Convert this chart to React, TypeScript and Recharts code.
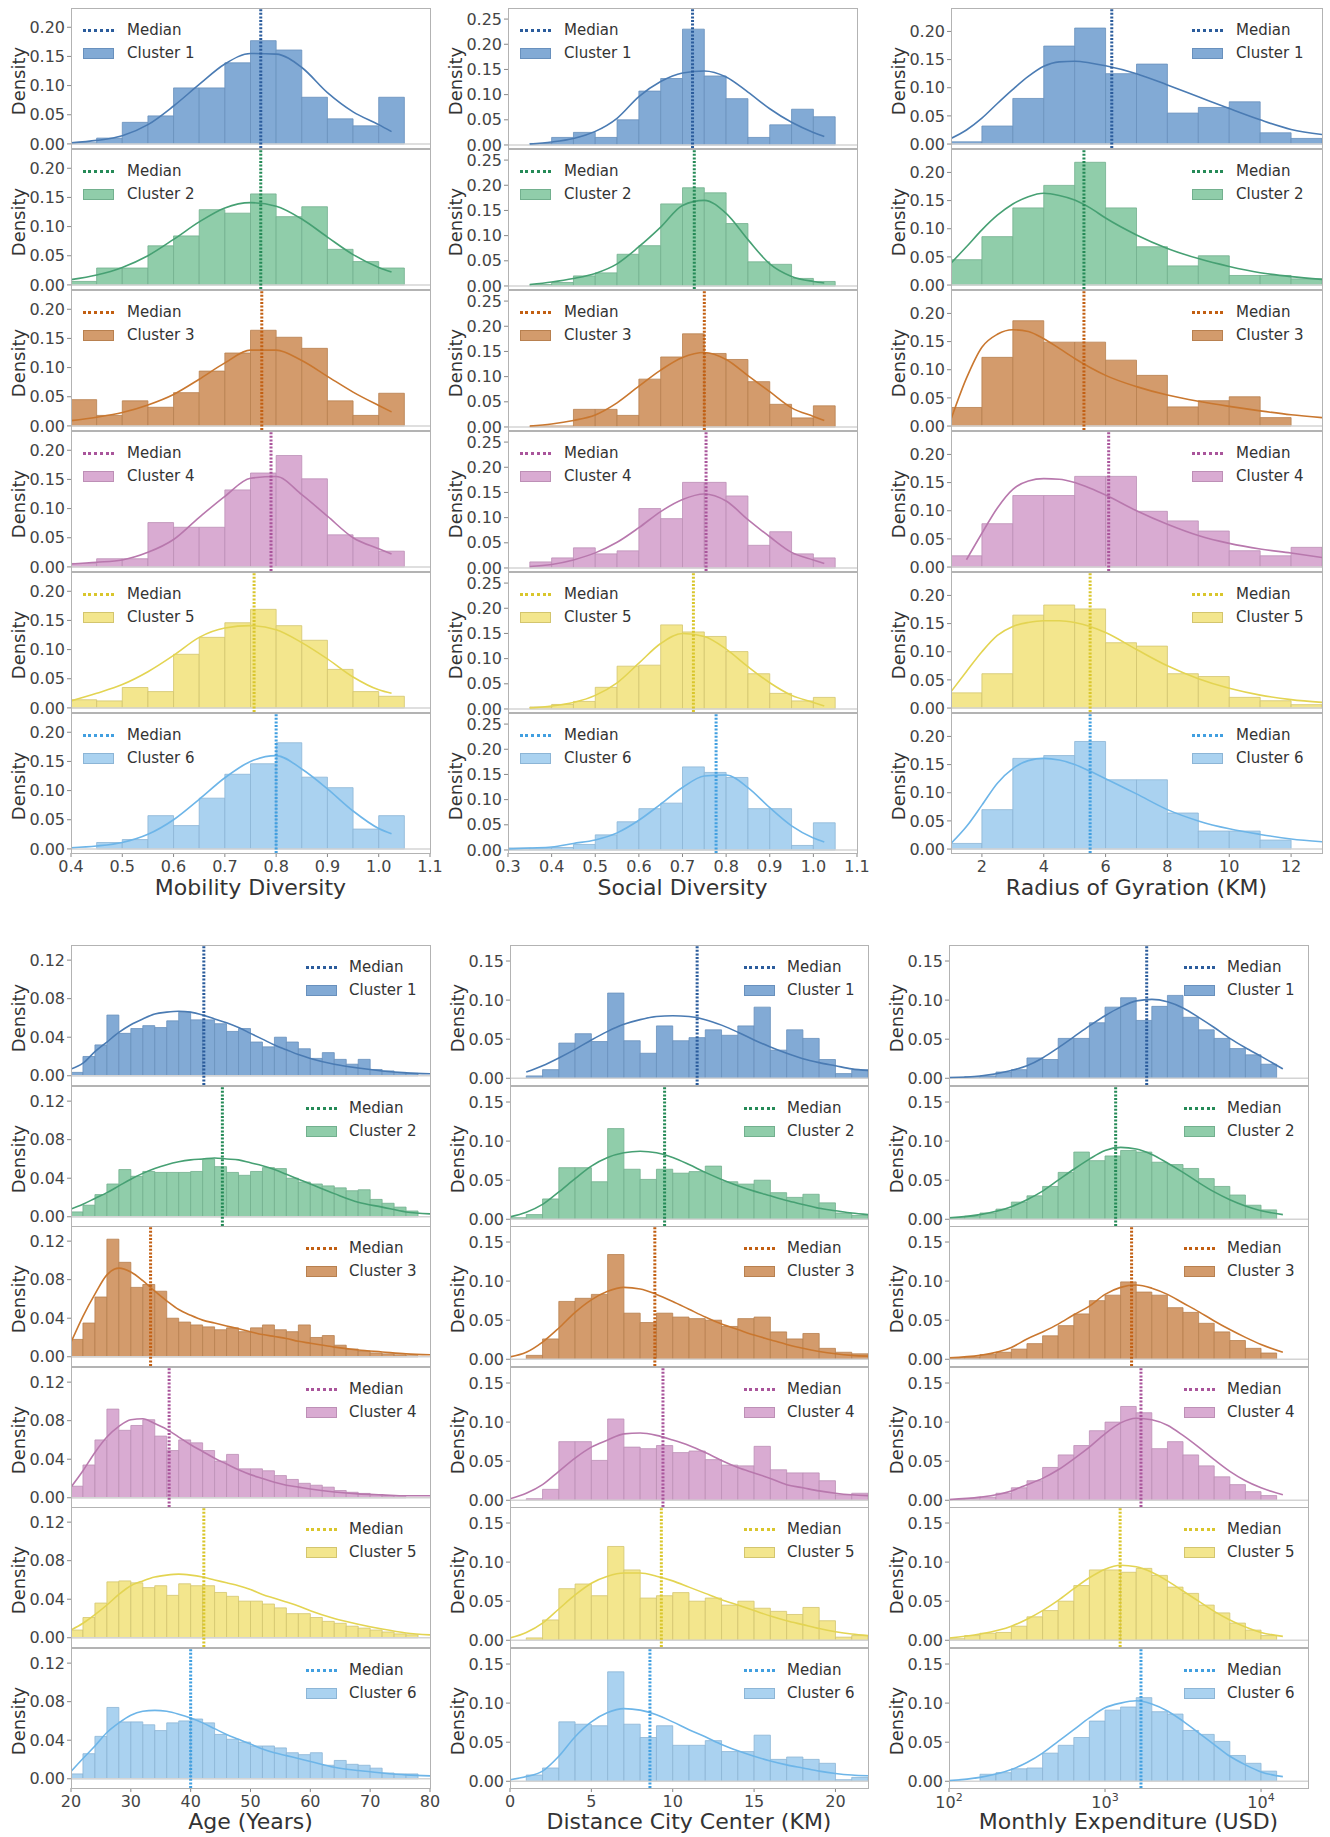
import React from 'react';
import { ComposedChart, Line, XAxis, YAxis, ReferenceArea, ReferenceLine } from 'recharts';

const FONT = "'DejaVu Sans', 'Liberation Sans', sans-serif";

const CLUSTER_LABELS = ['Cluster 1', 'Cluster 2', 'Cluster 3', 'Cluster 4', 'Cluster 5', 'Cluster 6'];
const BAR_FILL = ['#82aad5', '#90cdaa', '#d39b6c', '#d9abd2', '#f3e68d', '#aad2f0'];
const BAR_EDGE = ['#6890bd', '#72b08e', '#b8804f', '#bd8fb6', '#d3c56e', '#8cb5d6'];
const KDE_COLOR = ['#4a7bb3', '#46a073', '#c9772f', '#b878ad', '#e3d452', '#6db5e8'];
const MEDIAN_COLOR = ['#2b5c9c', '#258a57', '#c25f12', '#a9559b', '#d9c62c', '#419fe0'];

// ---------- Mobility Diversity ----------
const MOB_EDGES = [0.4, 0.45, 0.5, 0.55, 0.6, 0.65, 0.7, 0.75, 0.8, 0.85, 0.9, 0.95, 1.0, 1.05];
const MOB_BARS = [
  [0.002, 0.01, 0.037, 0.048, 0.096, 0.096, 0.139, 0.177, 0.161, 0.08, 0.043, 0.031, 0.08],
  [0.006, 0.029, 0.029, 0.067, 0.084, 0.129, 0.123, 0.156, 0.117, 0.134, 0.061, 0.04, 0.029],
  [0.045, 0.018, 0.043, 0.032, 0.057, 0.094, 0.125, 0.164, 0.152, 0.133, 0.043, 0.018, 0.056],
  [0.006, 0.014, 0.014, 0.076, 0.068, 0.068, 0.132, 0.161, 0.191, 0.151, 0.055, 0.05, 0.027],
  [0.014, 0.012, 0.035, 0.028, 0.092, 0.121, 0.146, 0.169, 0.141, 0.116, 0.066, 0.028, 0.02],
  [0, 0.011, 0.016, 0.057, 0.04, 0.087, 0.128, 0.146, 0.182, 0.123, 0.105, 0.034, 0.057],
];
const MOB_KDE_X = [0.4, 0.45, 0.5, 0.55, 0.6, 0.65, 0.7, 0.75, 0.8, 0.85, 0.9, 0.95, 1.0, 1.025];
const MOB_KDE = [
  [0.002, 0.006, 0.014, 0.033, 0.065, 0.102, 0.137, 0.155, 0.154, 0.131, 0.088, 0.055, 0.033, 0.021],
  [0.009, 0.017, 0.03, 0.05, 0.078, 0.108, 0.132, 0.141, 0.135, 0.113, 0.082, 0.052, 0.03, 0.022],
  [0.009, 0.015, 0.023, 0.036, 0.054, 0.08, 0.108, 0.13, 0.13, 0.112, 0.085, 0.058, 0.035, 0.024],
  [0.005, 0.008, 0.012, 0.025, 0.047, 0.085, 0.121, 0.152, 0.155, 0.124, 0.087, 0.05, 0.031, 0.022],
  [0.012, 0.025, 0.04, 0.062, 0.09, 0.121, 0.137, 0.141, 0.134, 0.112, 0.084, 0.053, 0.031, 0.025],
  [0.002, 0.005, 0.011, 0.025, 0.05, 0.085, 0.122, 0.15, 0.16, 0.137, 0.103, 0.065, 0.035, 0.026],
];
const MOB_MEDIAN = [0.77, 0.77, 0.772, 0.79, 0.757, 0.8];
const MOB_XTICKS = [0.4, 0.5, 0.6, 0.7, 0.8, 0.9, 1.0, 1.1];

// ---------- Social Diversity ----------
const SOC_EDGES = [0.3, 0.35, 0.4, 0.45, 0.5, 0.55, 0.6, 0.65, 0.7, 0.75, 0.8, 0.85, 0.9, 0.95, 1.0, 1.05];
const SOC_BARS = [
  [0, 0.003, 0.015, 0.025, 0.015, 0.05, 0.107, 0.132, 0.23, 0.137, 0.092, 0.015, 0.04, 0.071, 0.056],
  [0, 0.003, 0.007, 0.02, 0.026, 0.063, 0.08, 0.163, 0.195, 0.185, 0.124, 0.048, 0.043, 0.015, 0.009],
  [0, 0.002, 0.002, 0.035, 0.035, 0.023, 0.095, 0.139, 0.185, 0.146, 0.134, 0.09, 0.045, 0.018, 0.042],
  [0, 0.012, 0.02, 0.04, 0.028, 0.034, 0.118, 0.098, 0.17, 0.17, 0.143, 0.045, 0.072, 0.028, 0.02],
  [0, 0.004, 0.009, 0.015, 0.043, 0.085, 0.087, 0.167, 0.153, 0.144, 0.114, 0.07, 0.031, 0.016, 0.023],
  [0.004, 0.004, 0.005, 0.011, 0.03, 0.056, 0.082, 0.093, 0.165, 0.154, 0.144, 0.082, 0.082, 0.009, 0.054],
];
const SOC_KDE_X = [0.3, 0.35, 0.4, 0.45, 0.5, 0.55, 0.6, 0.65, 0.7, 0.75, 0.8, 0.85, 0.9, 0.95, 1.0, 1.025];
const SOC_KDE = [
  [null, 0.002, 0.006, 0.013, 0.027, 0.053, 0.096, 0.126, 0.143, 0.147, 0.135, 0.105, 0.072, 0.045, 0.025, 0.017],
  [null, 0.003, 0.008, 0.015, 0.025, 0.044, 0.078, 0.117, 0.16, 0.17, 0.144, 0.092, 0.044, 0.019, 0.009, 0.006],
  [null, 0.002, 0.006, 0.013, 0.024, 0.048, 0.081, 0.113, 0.138, 0.148, 0.134, 0.102, 0.07, 0.038, 0.021, 0.013],
  [null, 0.003, 0.007, 0.016, 0.03, 0.051, 0.08, 0.112, 0.136, 0.147, 0.133, 0.096, 0.062, 0.031, 0.016, 0.009],
  [null, 0.002, 0.006, 0.013, 0.027, 0.052, 0.091, 0.13, 0.15, 0.144, 0.119, 0.084, 0.052, 0.027, 0.013, 0.006],
  [0.002, 0.004, 0.006, 0.013, 0.02, 0.034, 0.059, 0.091, 0.124, 0.147, 0.149, 0.124, 0.084, 0.048, 0.024, 0.016],
];
const SOC_MEDIAN = [0.723, 0.727, 0.75, 0.754, 0.725, 0.777];
const SOC_XTICKS = [0.3, 0.4, 0.5, 0.6, 0.7, 0.8, 0.9, 1.0, 1.1];

// ---------- Radius of Gyration ----------
const RAD_EDGES = [1, 2, 3, 4, 5, 6, 7, 8, 9, 10, 11, 12, 13];
const RAD_BARS = [
  [0.004, 0.032, 0.081, 0.174, 0.206, 0.125, 0.142, 0.055, 0.065, 0.075, 0.02, 0.01],
  [0.045, 0.086, 0.137, 0.177, 0.218, 0.137, 0.068, 0.034, 0.052, 0.017, 0.017, 0.011],
  [0.033, 0.122, 0.187, 0.149, 0.149, 0.117, 0.09, 0.034, 0.045, 0.052, 0.015, 0],
  [0.02, 0.077, 0.127, 0.127, 0.161, 0.161, 0.099, 0.082, 0.064, 0.029, 0.02, 0.035],
  [0.027, 0.061, 0.165, 0.183, 0.176, 0.116, 0.11, 0.061, 0.056, 0.019, 0.013, 0.006],
  [0.01, 0.07, 0.161, 0.166, 0.191, 0.123, 0.123, 0.064, 0.032, 0.032, 0.016, 0],
];
const RAD_KDE_X = [1, 1.5, 2, 2.5, 3, 3.5, 4, 4.5, 5, 5.5, 6, 7, 8, 9, 10, 11, 12, 13];
const RAD_KDE = [
  [0.01, 0.025, 0.046, 0.072, 0.097, 0.12, 0.138, 0.146, 0.147, 0.144, 0.139, 0.125, 0.105, 0.084, 0.063, 0.043, 0.026, 0.017],
  [0.039, 0.068, 0.098, 0.124, 0.144, 0.157, 0.163, 0.159, 0.151, 0.137, 0.119, 0.089, 0.065, 0.047, 0.033, 0.022, 0.015, 0.01],
  [0.012, 0.085, 0.14, 0.163, 0.171, 0.168, 0.155, 0.138, 0.12, 0.104, 0.09, 0.07, 0.055, 0.044, 0.035, 0.027, 0.02, 0.015],
  [null, 0.013, 0.06, 0.105, 0.138, 0.153, 0.157, 0.156, 0.15, 0.14, 0.128, 0.1, 0.076, 0.056, 0.042, 0.032, 0.025, 0.017],
  [0.029, 0.065, 0.1, 0.129, 0.145, 0.152, 0.155, 0.155, 0.152, 0.145, 0.134, 0.104, 0.075, 0.052, 0.035, 0.023, 0.015, 0.01],
  [0.01, 0.04, 0.078, 0.117, 0.143, 0.157, 0.161, 0.158, 0.15, 0.138, 0.125, 0.098, 0.07, 0.05, 0.036, 0.026, 0.018, 0.013],
];
const RAD_MEDIAN = [6.2, 5.3, 5.3, 6.1, 5.5, 5.5];
const RAD_XTICKS = [2, 4, 6, 8, 10, 12];

// ---------- Age ----------
const AGE_EDGES = [20, 22, 24, 26, 28, 30, 32, 34, 36, 38, 40, 42, 44, 46, 48, 50, 52, 54, 56, 58, 60, 62, 64, 66, 68, 70, 72, 74, 76, 78];
const AGE_BARS = [
  [0.0035, 0.02, 0.032, 0.063, 0.044, 0.049, 0.052, 0.05, 0.057, 0.066, 0.058, 0.058, 0.054, 0.046, 0.049, 0.035, 0.03, 0.04, 0.035, 0.028, 0.018, 0.024, 0.017, 0.012, 0.017, 0.0065, 0.005, 0.0035, 0.0025],
  [0.005, 0.012, 0.023, 0.034, 0.049, 0.042, 0.047, 0.046, 0.046, 0.046, 0.047, 0.06, 0.052, 0.046, 0.043, 0.047, 0.051, 0.05, 0.04, 0.036, 0.034, 0.032, 0.03, 0.027, 0.028, 0.018, 0.014, 0.01, 0.006],
  [0.018, 0.035, 0.062, 0.122, 0.098, 0.072, 0.075, 0.068, 0.04, 0.036, 0.033, 0.031, 0.028, 0.03, 0.026, 0.03, 0.033, 0.028, 0.026, 0.033, 0.02, 0.022, 0.012, 0.008, 0.006, 0.004, 0.003, 0.002, 0.001],
  [0.012, 0.034, 0.06, 0.092, 0.07, 0.075, 0.081, 0.064, 0.049, 0.06, 0.057, 0.049, 0.038, 0.045, 0.03, 0.03, 0.028, 0.023, 0.019, 0.015, 0.013, 0.011, 0.0075, 0.0057, 0.0045, 0.003, 0.002, 0.001, 0],
  [0.008, 0.021, 0.036, 0.058, 0.059, 0.057, 0.052, 0.054, 0.044, 0.056, 0.054, 0.054, 0.047, 0.043, 0.038, 0.038, 0.035, 0.031, 0.025, 0.025, 0.021, 0.017, 0.015, 0.012, 0.01, 0.008, 0.006, 0.004, 0.003],
  [0.005, 0.026, 0.044, 0.074, 0.059, 0.059, 0.056, 0.05, 0.058, 0.06, 0.062, 0.058, 0.046, 0.041, 0.038, 0.034, 0.034, 0.032, 0.027, 0.025, 0.027, 0.014, 0.019, 0.015, 0.014, 0.011, 0.006, 0.005, 0.005],
];
const AGE_KDE_X = [20, 22, 24, 26, 28, 30, 32, 34, 36, 38, 40, 42, 44, 46, 48, 50, 52, 54, 56, 58, 60, 64, 68, 72, 76, 80];
const AGE_KDE = [
  [0.007, 0.013, 0.025, 0.035, 0.045, 0.053, 0.059, 0.064, 0.066, 0.067, 0.066, 0.063, 0.059, 0.055, 0.05, 0.044, 0.038, 0.032, 0.027, 0.022, 0.018, 0.012, 0.008, 0.005, 0.003, 0.002],
  [0.008, 0.013, 0.019, 0.025, 0.032, 0.039, 0.045, 0.05, 0.054, 0.057, 0.059, 0.06, 0.061, 0.06, 0.059, 0.056, 0.053, 0.049, 0.044, 0.039, 0.034, 0.024, 0.015, 0.01, 0.005, 0.003],
  [0.015, 0.042, 0.065, 0.085, 0.092, 0.088, 0.079, 0.068, 0.058, 0.049, 0.043, 0.038, 0.035, 0.032, 0.029, 0.026, 0.023, 0.021, 0.019, 0.016, 0.014, 0.01, 0.007, 0.005, 0.003, 0.002],
  [0.011, 0.028, 0.047, 0.063, 0.074, 0.081, 0.082, 0.077, 0.071, 0.063, 0.055, 0.048, 0.041, 0.035, 0.029, 0.024, 0.02, 0.016, 0.013, 0.011, 0.009, 0.006, 0.004, 0.003, 0.002, 0.002],
  [0.008, 0.015, 0.024, 0.034, 0.045, 0.054, 0.059, 0.063, 0.065, 0.066, 0.065, 0.063, 0.06, 0.057, 0.054, 0.05, 0.045, 0.041, 0.037, 0.033, 0.028, 0.02, 0.014, 0.009, 0.005, 0.003],
  [0.0075, 0.021, 0.034, 0.048, 0.058, 0.066, 0.07, 0.071, 0.07, 0.067, 0.063, 0.058, 0.052, 0.046, 0.041, 0.036, 0.031, 0.027, 0.024, 0.021, 0.018, 0.012, 0.0085, 0.006, 0.004, 0.003],
];
const AGE_MEDIAN = [42.2, 45.3, 33.3, 36.4, 42.2, 40];
const AGE_XTICKS = [20, 30, 40, 50, 60, 70, 80];

// ---------- Distance City Center ----------
const DIST_EDGES = [0, 1, 2, 3, 4, 5, 6, 7, 8, 9, 10, 11, 12, 13, 14, 15, 16, 17, 18, 19, 20, 21, 22];
const DIST_BARS = [
  [0, 0.003, 0.011, 0.045, 0.057, 0.047, 0.109, 0.048, 0.032, 0.067, 0.048, 0.052, 0.062, 0.055, 0.067, 0.091, 0.036, 0.062, 0.051, 0.024, 0.006, 0.011],
  [0.002, 0.006, 0.026, 0.066, 0.066, 0.048, 0.116, 0.064, 0.051, 0.064, 0.059, 0.061, 0.068, 0.048, 0.045, 0.05, 0.034, 0.028, 0.032, 0.021, 0.008, 0.005],
  [0, 0.005, 0.026, 0.074, 0.078, 0.083, 0.134, 0.059, 0.047, 0.059, 0.054, 0.052, 0.05, 0.042, 0.052, 0.054, 0.035, 0.026, 0.033, 0.014, 0.009, 0.007],
  [0, 0.002, 0.014, 0.075, 0.075, 0.051, 0.104, 0.068, 0.066, 0.07, 0.061, 0.063, 0.052, 0.045, 0.044, 0.069, 0.039, 0.035, 0.035, 0.025, 0.007, 0.009],
  [0, 0.003, 0.026, 0.066, 0.072, 0.057, 0.12, 0.09, 0.054, 0.057, 0.061, 0.05, 0.054, 0.045, 0.05, 0.041, 0.037, 0.033, 0.042, 0.025, 0.004, 0.006],
  [0, 0.008, 0.017, 0.076, 0.073, 0.071, 0.14, 0.073, 0.056, 0.071, 0.046, 0.046, 0.052, 0.038, 0.038, 0.059, 0.028, 0.031, 0.028, 0.023, 0.002, 0.005],
];
const DIST_KDE_X = [0, 1, 2, 3, 4, 5, 6, 7, 8, 9, 10, 11, 12, 13, 14, 15, 16, 17, 18, 19, 20, 21, 22];
const DIST_KDE = [
  [null, 0.008, 0.016, 0.026, 0.037, 0.049, 0.06, 0.069, 0.075, 0.079, 0.08, 0.079, 0.075, 0.068, 0.059, 0.049, 0.04, 0.032, 0.025, 0.02, 0.016, 0.012, 0.01],
  [0.003, 0.009, 0.019, 0.035, 0.052, 0.068, 0.079, 0.085, 0.087, 0.085, 0.079, 0.07, 0.06, 0.051, 0.043, 0.036, 0.03, 0.024, 0.019, 0.014, 0.011, 0.008, 0.006],
  [0.003, 0.009, 0.022, 0.04, 0.06, 0.076, 0.087, 0.092, 0.09, 0.083, 0.074, 0.064, 0.054, 0.045, 0.038, 0.031, 0.025, 0.019, 0.014, 0.01, 0.007, 0.005, 0.004],
  [0.002, 0.009, 0.02, 0.037, 0.054, 0.068, 0.077, 0.085, 0.086, 0.083, 0.077, 0.07, 0.061, 0.051, 0.042, 0.035, 0.028, 0.02, 0.016, 0.012, 0.009, 0.007, 0.006],
  [0.003, 0.01, 0.022, 0.04, 0.058, 0.073, 0.082, 0.086, 0.086, 0.082, 0.076, 0.068, 0.06, 0.052, 0.045, 0.038, 0.031, 0.025, 0.02, 0.015, 0.011, 0.008, 0.006],
  [0.002, 0.006, 0.013, 0.032, 0.057, 0.076, 0.088, 0.093, 0.091, 0.085, 0.076, 0.066, 0.057, 0.047, 0.039, 0.032, 0.026, 0.021, 0.017, 0.013, 0.01, 0.008, 0.007],
];
const DIST_MEDIAN = [11.5, 9.5, 8.9, 9.4, 9.3, 8.6];
const DIST_XTICKS = [0, 5, 10, 15, 20];

// ---------- Monthly Expenditure (log) ----------
const EXP_EDGES = [100, 126, 158, 200, 251, 316, 398, 501, 631, 794, 1000, 1259, 1585, 1995, 2512, 3162, 3981, 5012, 6310, 7943, 10000, 12589];
const EXP_BARS = [
  [0.001, 0.002, 0.003, 0.008, 0.011, 0.026, 0.024, 0.051, 0.051, 0.071, 0.091, 0.103, 0.074, 0.092, 0.106, 0.078, 0.062, 0.051, 0.038, 0.03, 0.018],
  [0.002, 0.004, 0.008, 0.013, 0.022, 0.03, 0.042, 0.06, 0.086, 0.075, 0.081, 0.088, 0.086, 0.073, 0.07, 0.065, 0.052, 0.042, 0.031, 0.018, 0.012],
  [0.002, 0.003, 0.006, 0.009, 0.013, 0.02, 0.03, 0.043, 0.058, 0.075, 0.082, 0.099, 0.086, 0.082, 0.066, 0.06, 0.046, 0.035, 0.024, 0.014, 0.008],
  [0.001, 0.002, 0.004, 0.009, 0.016, 0.025, 0.042, 0.058, 0.07, 0.089, 0.1, 0.12, 0.112, 0.066, 0.075, 0.058, 0.044, 0.03, 0.02, 0.011, 0.006],
  [0.002, 0.006, 0.009, 0.01, 0.018, 0.03, 0.038, 0.05, 0.07, 0.09, 0.09, 0.087, 0.092, 0.083, 0.068, 0.06, 0.045, 0.035, 0.022, 0.013, 0.006],
  [0, 0, 0.009, 0.011, 0.016, 0.017, 0.036, 0.046, 0.056, 0.077, 0.091, 0.095, 0.107, 0.089, 0.086, 0.065, 0.06, 0.051, 0.033, 0.023, 0.013],
];
const EXP_KDE_X = [100, 158, 251, 316, 398, 501, 631, 794, 1000, 1259, 1585, 1995, 2512, 3162, 3981, 5012, 6310, 7943, 10000, 13800];
const EXP_KDE = [
  [0.001, 0.003, 0.01, 0.016, 0.026, 0.039, 0.053, 0.067, 0.08, 0.091, 0.099, 0.101, 0.098, 0.09, 0.078, 0.065, 0.051, 0.039, 0.028, 0.012],
  [0.002, 0.006, 0.016, 0.025, 0.036, 0.05, 0.064, 0.077, 0.088, 0.092, 0.09, 0.083, 0.072, 0.06, 0.047, 0.035, 0.025, 0.017, 0.011, 0.006],
  [0.002, 0.005, 0.015, 0.026, 0.035, 0.045, 0.057, 0.068, 0.083, 0.092, 0.095, 0.091, 0.083, 0.072, 0.061, 0.049, 0.038, 0.028, 0.019, 0.009],
  [0.001, 0.004, 0.012, 0.02, 0.028, 0.039, 0.053, 0.068, 0.085, 0.099, 0.105, 0.103, 0.096, 0.083, 0.068, 0.052, 0.037, 0.025, 0.016, 0.007],
  [0.003, 0.008, 0.018, 0.027, 0.038, 0.051, 0.066, 0.08, 0.091, 0.096, 0.094, 0.087, 0.076, 0.063, 0.05, 0.037, 0.026, 0.017, 0.01, 0.005],
  [0.001, 0.005, 0.015, 0.024, 0.036, 0.051, 0.066, 0.081, 0.094, 0.1, 0.103, 0.099, 0.09, 0.077, 0.062, 0.047, 0.032, 0.021, 0.012, 0.006],
];
const EXP_MEDIAN = [1850, 1170, 1480, 1700, 1250, 1700];
const EXP_XTICKS = [100, 1000, 10000];

type VarDef = {
  title: string;
  edges: number[];
  bars: number[][];
  kdeX: number[];
  kde: (number | null)[][];
  median: number[];
  xDomain: [number, number];
  xTicks: number[];
  yDomain: [number, number];
  yTicks: number[];
  log?: boolean;
  xFmt: (v: number) => string;
};

const fmt1 = (v: number) => v.toFixed(1);
const fmt0 = (v: number) => String(v);

const TOP_VARS: VarDef[] = [
  { title: 'Mobility Diversity', edges: MOB_EDGES, bars: MOB_BARS, kdeX: MOB_KDE_X, kde: MOB_KDE, median: MOB_MEDIAN,
    xDomain: [0.4, 1.1], xTicks: MOB_XTICKS, yDomain: [-0.007, 0.233], yTicks: [0, 0.05, 0.1, 0.15, 0.2], xFmt: fmt1 },
  { title: 'Social Diversity', edges: SOC_EDGES, bars: SOC_BARS, kdeX: SOC_KDE_X, kde: SOC_KDE, median: SOC_MEDIAN,
    xDomain: [0.3, 1.1], xTicks: SOC_XTICKS, yDomain: [-0.006, 0.272], yTicks: [0, 0.05, 0.1, 0.15, 0.2, 0.25], xFmt: fmt1 },
  { title: 'Radius of Gyration (KM)', edges: RAD_EDGES, bars: RAD_BARS, kdeX: RAD_KDE_X, kde: RAD_KDE, median: RAD_MEDIAN,
    xDomain: [1, 13], xTicks: RAD_XTICKS, yDomain: [-0.007, 0.2416], yTicks: [0, 0.05, 0.1, 0.15, 0.2], xFmt: fmt0 },
];
const BOT_VARS: VarDef[] = [
  { title: 'Age (Years)', edges: AGE_EDGES, bars: AGE_BARS, kdeX: AGE_KDE_X, kde: AGE_KDE, median: AGE_MEDIAN,
    xDomain: [20, 80], xTicks: AGE_XTICKS, yDomain: [-0.0096, 0.1357], yTicks: [0, 0.04, 0.08, 0.12], xFmt: fmt0 },
  { title: 'Distance City Center (KM)', edges: DIST_EDGES, bars: DIST_BARS, kdeX: DIST_KDE_X, kde: DIST_KDE, median: DIST_MEDIAN,
    xDomain: [0, 22], xTicks: DIST_XTICKS, yDomain: [-0.0086, 0.1705], yTicks: [0, 0.05, 0.1, 0.15], xFmt: fmt0 },
  { title: 'Monthly Expenditure (USD)', edges: EXP_EDGES, bars: EXP_BARS, kdeX: EXP_KDE_X, kde: EXP_KDE, median: EXP_MEDIAN,
    xDomain: [100, 20000], xTicks: EXP_XTICKS, yDomain: [-0.0086, 0.1705], yTicks: [0, 0.05, 0.1, 0.15], log: true, xFmt: fmt0 },
];

const TOP_COLS = [[71, 430], [508, 857], [951, 1322]];
const BOT_COLS = [[71, 430], [510, 868], [949, 1308]];
const TOP_ROW0 = 8;
const TOP_PITCH = 141;
const BOT_ROW0 = 945;
const BOT_PITCH = 140.6;
const PLOT_H = 140;
const LEFT_PAD = 70;
const RIGHT_PAD = 20;
const EXTRA_BOTTOM = 12;
const AXIS_H = 46;

const LogTick = (props: any) => {
  const { x, y, payload } = props;
  const exp = Math.round(Math.log10(payload.value));
  return (
    <text x={x} y={y} dy={12} textAnchor="middle" fontSize={16} fill="#444" fontFamily={FONT}>
      10<tspan dy={-7} fontSize={11}>{exp}</tspan>
    </text>
  );
};

function Panel({ v, c, left, right, top, bottom }: { v: VarDef; c: number; left: number; right: number; top: number; bottom: boolean }) {
  const w = right - left;
  const axisH = bottom ? AXIS_H : 0;
  const extra = bottom ? 0 : EXTRA_BOTTOM;
  const W = w + LEFT_PAD + RIGHT_PAD;
  const H = PLOT_H + axisH + extra;
  const kdeData = v.kdeX
    .map((x, i) => ({ x, y: v.kde[c][i] }))
    .filter((d) => d.y !== null);
  const bars = v.bars[c];
  return (
    <div style={{ position: 'absolute', left: left - LEFT_PAD, top, width: W, height: H, pointerEvents: 'none' }}>
      <ComposedChart width={W} height={H} data={kdeData} margin={{ top: 0, right: RIGHT_PAD, bottom: extra, left: 0 }}>
        <XAxis
          dataKey="x"
          type="number"
          scale={v.log ? 'log' : 'linear'}
          domain={v.xDomain}
          allowDataOverflow
          ticks={v.xTicks}
          interval={0}
          hide={!bottom}
          height={axisH}
          axisLine={false}
          tickLine={{ stroke: '#888' }}
          tickSize={4}
          tickMargin={4}
          tick={v.log ? <LogTick /> : { fontSize: 16, fill: '#444', fontFamily: FONT }}
          tickFormatter={v.xFmt}
        />
        <YAxis
          type="number"
          domain={v.yDomain}
          allowDataOverflow
          ticks={v.yTicks}
          interval={0}
          width={LEFT_PAD}
          axisLine={false}
          tickLine={{ stroke: '#888' }}
          tickSize={4}
          tickMargin={2}
          tick={{ fontSize: 16, fill: '#444', fontFamily: FONT }}
          tickFormatter={(t: number) => t.toFixed(2)}
        />
        {bars.map((h, i) =>
          h > 0 ? (
            <ReferenceArea
              key={'b' + i}
              x1={v.edges[i]}
              x2={v.edges[i + 1]}
              y1={0}
              y2={h}
              fill={BAR_FILL[c]}
              fillOpacity={1}
              stroke={BAR_EDGE[c]}
              strokeWidth={0.8}
              ifOverflow="hidden"
            />
          ) : null
        )}
        <ReferenceLine y={0} stroke="#d4d4d4" strokeWidth={1.5} />
        <Line dataKey="y" type="monotone" stroke={KDE_COLOR[c]} strokeWidth={1.6} dot={false} activeDot={false} isAnimationActive={false} />
        <ReferenceLine x={v.median[c]} stroke={MEDIAN_COLOR[c]} strokeWidth={3} strokeDasharray="2 1.6" />
      </ComposedChart>
    </div>
  );
}

function LegendBox({ c, lineX, textX, top }: { c: number; lineX: number; textX: number; top: number }) {
  const txt: React.CSSProperties = { position: 'absolute', left: textX, height: 20, lineHeight: '20px', fontSize: 15, color: '#333', whiteSpace: 'nowrap' };
  return (
    <>
      <div style={{ position: 'absolute', left: lineX, top: top + 21, width: 31, height: 0, borderTop: `3px dotted ${MEDIAN_COLOR[c]}` }} />
      <div style={{ ...txt, top: top + 12 }}>Median</div>
      <div style={{ position: 'absolute', left: lineX, top: top + 40, width: 31, height: 11, background: BAR_FILL[c], boxSizing: 'border-box', border: `1px solid ${BAR_EDGE[c]}` }} />
      <div style={{ ...txt, top: top + 35 }}>{CLUSTER_LABELS[c]}</div>
    </>
  );
}

function Block({ vars, cols, row0, pitch, titleY, legendRightOffsets, rightLegendCols }: any) {
  const items: React.ReactNode[] = [];
  vars.forEach((v: VarDef, ci: number) => {
    const [l, r] = cols[ci];
    for (let c = 0; c < 6; c++) {
      const top = row0 + c * pitch;
      const isBottom = c === 5;
      items.push(<Panel key={`p${ci}-${c}`} v={v} c={c} left={l} right={r} top={top} bottom={isBottom} />);
      items.push(
        <div key={`f${ci}-${c}`} style={{ position: 'absolute', left: l, top, width: r - l + 1, height: PLOT_H + 1, boxSizing: 'border-box', border: '1px solid #b3b3b3', pointerEvents: 'none' }} />
      );
      items.push(
        <div key={`d${ci}-${c}`} style={{ position: 'absolute', left: l - 52 - 50, top: top + 73 - 11, width: 100, height: 22, lineHeight: '22px', textAlign: 'center', fontSize: 18, color: '#333', transform: 'rotate(-90deg)' }}>
          Density
        </div>
      );
      if (rightLegendCols.includes(ci)) {
        items.push(<LegendBox key={`l${ci}-${c}`} c={c} lineX={r - legendRightOffsets[0]} textX={r - legendRightOffsets[1]} top={top} />);
      } else {
        items.push(<LegendBox key={`l${ci}-${c}`} c={c} lineX={l + 12} textX={l + 56} top={top} />);
      }
    }
    items.push(
      <div key={`t${ci}`} style={{ position: 'absolute', left: (l + r) / 2 - 200, top: titleY - 13, width: 400, height: 26, lineHeight: '26px', textAlign: 'center', fontSize: 22, color: '#333' }}>
        {v.title}
      </div>
    );
  });
  return <>{items}</>;
}

export default function App() {
  return (
    <div style={{ position: 'absolute', left: 0, top: 0, width: 1330, height: 1837, background: '#fff', fontFamily: FONT, overflow: 'hidden' }}>
      <Block vars={TOP_VARS} cols={TOP_COLS} row0={TOP_ROW0} pitch={TOP_PITCH} titleY={888} legendRightOffsets={[130, 86]} rightLegendCols={[2]} />
      <Block vars={BOT_VARS} cols={BOT_COLS} row0={BOT_ROW0} pitch={BOT_PITCH} titleY={1822} legendRightOffsets={[124, 81]} rightLegendCols={[0, 1, 2]} />
    </div>
  );
}
